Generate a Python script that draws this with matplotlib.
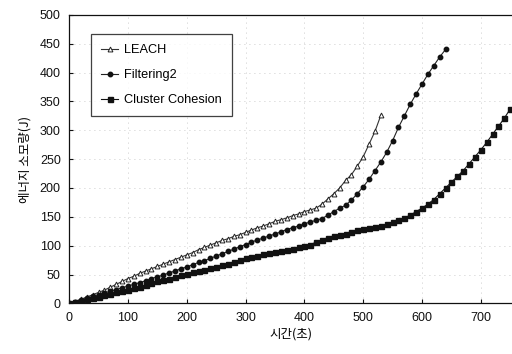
import numpy as np
import matplotlib
matplotlib.use("Agg")
import matplotlib.pyplot as plt

plt.rcParams['font.family'] = ['Liberation Sans', 'Noto Sans CJK KR', 'DejaVu Sans']

t_leach = np.arange(0, 540, 10)
leach = [0, 3, 7, 11, 15, 19, 23, 28, 33, 38, 43, 47, 52, 56, 60, 64, 68, 72, 76, 80,
         84, 88, 93, 97, 101, 105, 109, 112, 116, 119, 123, 127, 131, 134, 138, 142, 145,
         148, 152, 155, 159, 162, 165, 172, 181, 190, 200, 213, 223, 238, 254, 276, 298, 326]

t_filt = np.arange(0, 650, 10)
filt = [0, 3, 6, 9, 12, 15, 18, 21, 24, 27, 30, 33, 36, 39, 43, 46, 49, 53, 56, 60,
        63, 67, 71, 74, 78, 82, 86, 90, 94, 98, 102, 106, 110, 113, 117, 120, 124, 128,
        131, 134, 138, 141, 144, 147, 153, 159, 165, 170, 179, 190, 202, 215, 230, 245,
        262, 282, 305, 325, 345, 363, 380, 397, 412, 427, 440]

t_clus = np.arange(0, 760, 10)
clus = [0, 2, 4, 7, 9, 11, 14, 16, 19, 21, 24, 27, 29, 32, 35, 38, 40, 43, 46, 49,
        51, 54, 56, 58, 61, 63, 66, 69, 72, 75, 78, 80, 82, 85, 87, 89, 91, 93, 95, 97,
        99, 102, 106, 110, 114, 117, 119, 121, 124, 127, 129, 131, 132, 134, 137, 141,
        144, 148, 153, 159, 165, 172, 180, 190, 200, 210, 220, 230, 242, 254, 266, 279,
        293, 307, 321, 337]

x_ticks = [0, 100, 200, 300, 400, 500, 600, 700]
y_ticks = [0, 50, 100, 150, 200, 250, 300, 350, 400, 450, 500]

fig = plt.figure(figsize=(5.12, 3.54), dpi=100)
ax = fig.add_axes([0.135, 0.143, 0.865, 0.815])

ax.plot(t_leach, leach, color='#333333', lw=0.8, marker='^', ms=3.5, mfc='white',
        mec='#222222', mew=0.7, label='LEACH')
ax.plot(t_filt, filt, color='#222222', lw=0.8, marker='o', ms=3.2, mfc='#111111',
        mec='#111111', label='Filtering2')
ax.plot(t_clus, clus, color='#111111', lw=0.8, marker='s', ms=3.6, mfc='#111111',
        mec='#111111', label='Cluster Cohesion')

ax.set_xlim(0, 753)
ax.set_ylim(0, 500)
ax.set_xticks(x_ticks)
ax.set_yticks(y_ticks)
ax.grid(True, color='#bbbbbb', linestyle=(0, (1, 5)), lw=0.6)
ax.tick_params(direction='in', length=3, width=0.8, labelsize=9, pad=6, colors='#111111')
ax.spines['right'].set_visible(False)
for s in ['left', 'top', 'bottom']:
    ax.spines[s].set_color('#111111')
    ax.spines[s].set_linewidth(0.9)

ax.set_xlabel('시간(초)', family=['Noto Sans CJK KR', 'DejaVu Sans'], fontsize=9, labelpad=3)
ax.set_ylabel('에너지 소모량(J)', family=['Noto Sans CJK KR', 'DejaVu Sans'], fontsize=9, labelpad=6)

leg = ax.legend(loc='upper left', bbox_to_anchor=(0.035, 0.955), fontsize=9.2, frameon=True,
                fancybox=False, edgecolor='#111111', handlelength=1.3, handletextpad=0.5,
                markerscale=1.0, labelspacing=1.0, borderpad=0.8)
leg.get_frame().set_linewidth(0.9)

fig.savefig('out.png', dpi=100)
